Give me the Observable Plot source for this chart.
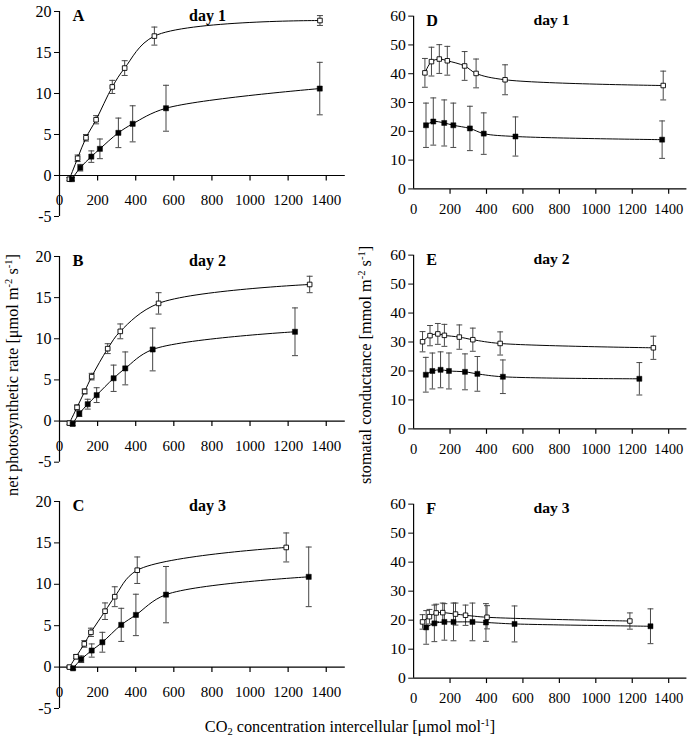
<!DOCTYPE html>
<html><head><meta charset="utf-8">
<script src="https://cdn.jsdelivr.net/npm/d3@7"></script>
<script src="https://cdn.jsdelivr.net/npm/@observablehq/plot@0.6"></script>
<style>
body{margin:0;background:#fff;}
#fig{position:relative;width:696px;height:741px;overflow:hidden;font-family:"Liberation Serif","Times New Roman",serif;color:#000;}
.panel{position:absolute;}
.panel svg{overflow:visible;font-family:"Liberation Serif","Times New Roman",serif;}
.lab{position:absolute;font-size:16.3px;white-space:nowrap;line-height:18px;transform:translate(-50%,-50%);}
.rot{transform:translate(-50%,-50%) rotate(-90deg);}
.lab sup{font-size:10.5px;vertical-align:6px;line-height:0;}
.lab sub{font-size:10.5px;vertical-align:-3px;line-height:0;}
</style></head><body><div id="fig"></div>
<script>
// ---- tick values ----
const xTickValues = [0, 200, 400, 600, 800, 1000, 1200, 1400];
const yTicksRate = [-5, 0, 5, 10, 15, 20];
const yTicksCond = [0, 10, 20, 30, 40, 50, 60];

// ---- panel A: net photosynthetic rate, day 1 ----
const aOpenX = [52, 95, 139, 192, 277, 342, 498, 1367];
const aOpenY = [-0.45, 2.1, 4.6, 6.8, 10.8, 13.1, 17.0, 18.9];
const aOpenErr = [0.2, 0.4, 0.4, 0.5, 0.8, 0.9, 1.1, 0.6];
const aFillX = [65, 109, 167, 212, 309, 384, 559, 1366];
const aFillY = [-0.45, 0.95, 2.3, 3.25, 5.2, 6.3, 8.2, 10.6];
const aFillErr = [0.2, 0.4, 0.7, 1.2, 1.8, 2.2, 2.8, 3.2];

// ---- panel B: day 2 ----
const bOpenX = [52, 92, 132, 169, 253, 319, 520, 1313];
const bOpenY = [-0.25, 1.66, 3.6, 5.4, 8.8, 10.9, 14.3, 16.6];
const bOpenErr = [0.2, 0.3, 0.3, 0.4, 0.6, 0.9, 1.3, 1.0];
const bFillX = [69, 104, 148, 195, 284, 345, 489, 1236];
const bFillY = [-0.35, 0.9, 2.05, 3.15, 5.2, 6.4, 8.7, 10.85];
const bFillErr = [0.2, 0.35, 0.6, 0.9, 1.6, 2.0, 2.6, 2.9];

// ---- panel C: day 3 ----
const cOpenX = [52, 87, 130, 165, 239, 290, 408, 1190];
const cOpenY = [0, 1.25, 2.8, 4.2, 6.75, 8.5, 11.7, 14.45];
const cOpenErr = [0.15, 0.25, 0.4, 0.5, 1.0, 1.2, 1.6, 1.75];
const cFillX = [71, 114, 169, 225, 324, 401, 559, 1308];
const cFillY = [-0.15, 0.95, 2.0, 3.0, 5.1, 6.3, 8.75, 10.9];
const cFillErr = [0.15, 0.4, 0.8, 1.2, 2.0, 2.5, 3.4, 3.6];

// ---- panel D: stomatal conductance, day 1 ----
const dOpenX = [62, 98, 141, 185, 280, 343, 502, 1370];
const dOpenY = [40.3, 44.2, 45.1, 44.5, 42.7, 40.1, 37.9, 35.9];
const dOpenErr = [5, 5, 5, 5, 5, 5, 5.2, 5];
const dFillX = [68, 108, 168, 218, 309, 385, 559, 1364];
const dFillY = [22.1, 23.4, 22.9, 22.1, 21.0, 19.2, 18.2, 17.1];
const dFillErr = [7.7, 8.2, 8, 7.7, 7.7, 7.2, 6.8, 6.5];

// ---- panel E: day 2 ----
const eOpenX = [49, 90, 133, 169, 251, 325, 475, 1316];
const eOpenY = [30.1, 32.2, 32.8, 32.3, 31.7, 30.8, 29.5, 28.0];
const eOpenErr = [3.5, 3.5, 3.6, 3.8, 4.2, 4, 4, 4];
const eFillX = [67, 103, 148, 194, 282, 350, 490, 1239];
const eFillY = [18.7, 20.0, 20.4, 20.0, 19.7, 19.0, 18.0, 17.3];
const eFillErr = [6, 6.2, 6.2, 6.2, 6.2, 6, 5.8, 5.6];

// ---- panel F: day 3 ----
const fOpenX = [49, 87, 124, 160, 230, 285, 403, 1187];
const fOpenY = [19.4, 21.2, 22.5, 22.6, 22.1, 21.7, 21.0, 19.7];
const fOpenErr = [2.5, 2.5, 3, 3.3, 3.8, 3.5, 4, 2.8];
const fFillX = [69, 114, 169, 219, 323, 397, 554, 1300];
const fFillY = [17.5, 18.9, 19.4, 19.4, 19.4, 19.2, 18.7, 17.9];
const fFillErr = [5.8, 6.3, 6.3, 6.5, 6.5, 6.5, 6.2, 6];

const FONT = '"Liberation Serif","Times New Roman",serif';
const capSymbol = {draw(ctx) { ctx.moveTo(-3, 0); ctx.lineTo(3, 0); }};
const xTickSymbol = {draw(ctx) { ctx.moveTo(0, 0); ctx.lineTo(0, 5); }};

function rows(xs, ys, es) {
  return xs.map((x, i) => ({x, y: ys[i], lo: ys[i] - es[i], hi: ys[i] + es[i]}));
}

function panel(cfg) {
  const mL = 40, mR = 10, mT = 16, mB = 40;
  const W = (cfg.x1 - cfg.x0) + mL + mR;
  const H = (cfg.yBot - cfg.yTop) + mT + mB;
  const open = rows(cfg.ox, cfg.oy, cfg.oe);
  const fill = rows(cfg.fx, cfg.fy, cfg.fe);
  const both = open.concat(fill);
  const svg = Plot.plot({
    width: W, height: H,
    marginLeft: mL, marginRight: mR, marginTop: mT, marginBottom: mB,
    style: {fontFamily: FONT, fontSize: "15px", color: "#000", background: "transparent", overflow: "visible"},
    x: {domain: [0, 1500], axis: null},
    y: {domain: cfg.yDomain, axis: null},
    marks: [
      Plot.ruleX([0], {stroke: "#000", strokeWidth: 1.2}),
      Plot.ruleY([0], {stroke: "#000", strokeWidth: 1.2}),
      Plot.axisY(cfg.yTicks, {tickSize: 5, tickPadding: 3, stroke: "#000", fontSize: 16, fontFamily: FONT, tickFormat: d => String(d)}),
      Plot.dot(xTickValues.slice(1), {x: d => d, y: () => 0, symbol: xTickSymbol, stroke: "#000", fill: "none", strokeWidth: 1.2}),
      Plot.text(xTickValues, {x: d => d, y: () => 0, dy: cfg.labDy, text: d => String(d), fontSize: 15, fontFamily: FONT, fill: "#000"}),
      Plot.ruleX(both, {x: "x", y1: "lo", y2: "hi", stroke: "#444", strokeWidth: 1}),
      Plot.dot(both, {x: "x", y: "lo", symbol: capSymbol, stroke: "#444", fill: "none", strokeWidth: 1}),
      Plot.dot(both, {x: "x", y: "hi", symbol: capSymbol, stroke: "#444", fill: "none", strokeWidth: 1}),
      Plot.line(open, {x: "x", y: "y", curve: "catmull-rom", stroke: "#000", strokeWidth: 1}),
      Plot.line(fill, {x: "x", y: "y", curve: "catmull-rom", stroke: "#000", strokeWidth: 1}),
      Plot.dot(open, {x: "x", y: "y", symbol: "square", r: 2.6, fill: "#fff", stroke: "#000", strokeWidth: 0.9}),
      Plot.dot(fill, {x: "x", y: "y", symbol: "square", r: 2.9, fill: "#000", stroke: "#000", strokeWidth: 0.5}),
      Plot.text([cfg.letter], {frameAnchor: "top-left", text: d => d, dx: 13, dy: -2, textAnchor: "start", fontWeight: "bold", fontSize: 16.5, fontFamily: FONT, fill: "#000"}),
      Plot.text([cfg.day], {frameAnchor: "top-left", text: d => d, dx: cfg.dayDx, dy: -2, textAnchor: "middle", fontWeight: "bold", fontSize: 16, fontFamily: FONT, fill: "#000"})
    ]
  });
  const div = document.createElement("div");
  div.className = "panel";
  div.style.left = (cfg.x0 - mL) + "px";
  div.style.top = (cfg.yTop - mT) + "px";
  div.appendChild(svg);
  document.getElementById("fig").appendChild(div);
}

const L = {x0: 59.2, x1: 345, yDomain: [-5, 20], yTicks: yTicksRate, labDy: 25, dayDx: 148};
const R = {x0: 413.8, x1: 693.3, yDomain: [0, 60], yTicks: yTicksCond, labDy: 21, dayDx: 141};

panel({...L, yTop: 10.7, yBot: 215.7, letter: "A", day: "day 1", ox: aOpenX, oy: aOpenY, oe: aOpenErr, fx: aFillX, fy: aFillY, fe: aFillErr});
panel({...L, yTop: 256, yBot: 461.7, letter: "B", day: "day 2", ox: bOpenX, oy: bOpenY, oe: bOpenErr, fx: bFillX, fy: bFillY, fe: bFillErr});
panel({...L, yTop: 500.7, yBot: 707.7, letter: "C", day: "day 3", ox: cOpenX, oy: cOpenY, oe: cOpenErr, fx: cFillX, fy: cFillY, fe: cFillErr});
panel({...R, yTop: 16, yBot: 192.7, letter: "D", day: "day 1", ox: dOpenX, oy: dOpenY, oe: dOpenErr, fx: dFillX, fy: dFillY, fe: dFillErr});
panel({...R, yTop: 255, yBot: 432.7, letter: "E", day: "day 2", ox: eOpenX, oy: eOpenY, oe: eOpenErr, fx: eFillX, fy: eFillY, fe: eFillErr});
panel({...R, yTop: 504.3, yBot: 682.3, letter: "F", day: "day 3", ox: fOpenX, oy: fOpenY, oe: fOpenErr, fx: fFillX, fy: fFillY, fe: fFillErr});

function addLabel(html, x, y, rotate) {
  const d = document.createElement("div");
  d.className = "lab" + (rotate ? " rot" : "");
  d.style.left = x + "px";
  d.style.top = y + "px";
  d.innerHTML = html;
  document.getElementById("fig").appendChild(d);
}
addLabel("net photosynthetic rate [μmol m<sup>-2</sup> s<sup>-1</sup>]", 13, 375, true);
addLabel("stomatal conductance [mmol m<sup>-2</sup> s<sup>-1</sup>]", 366, 365, true);
addLabel("CO<sub>2</sub> concentration intercellular [μmol mol<sup>-1</sup>]", 350, 727, false);
</script></body></html>
